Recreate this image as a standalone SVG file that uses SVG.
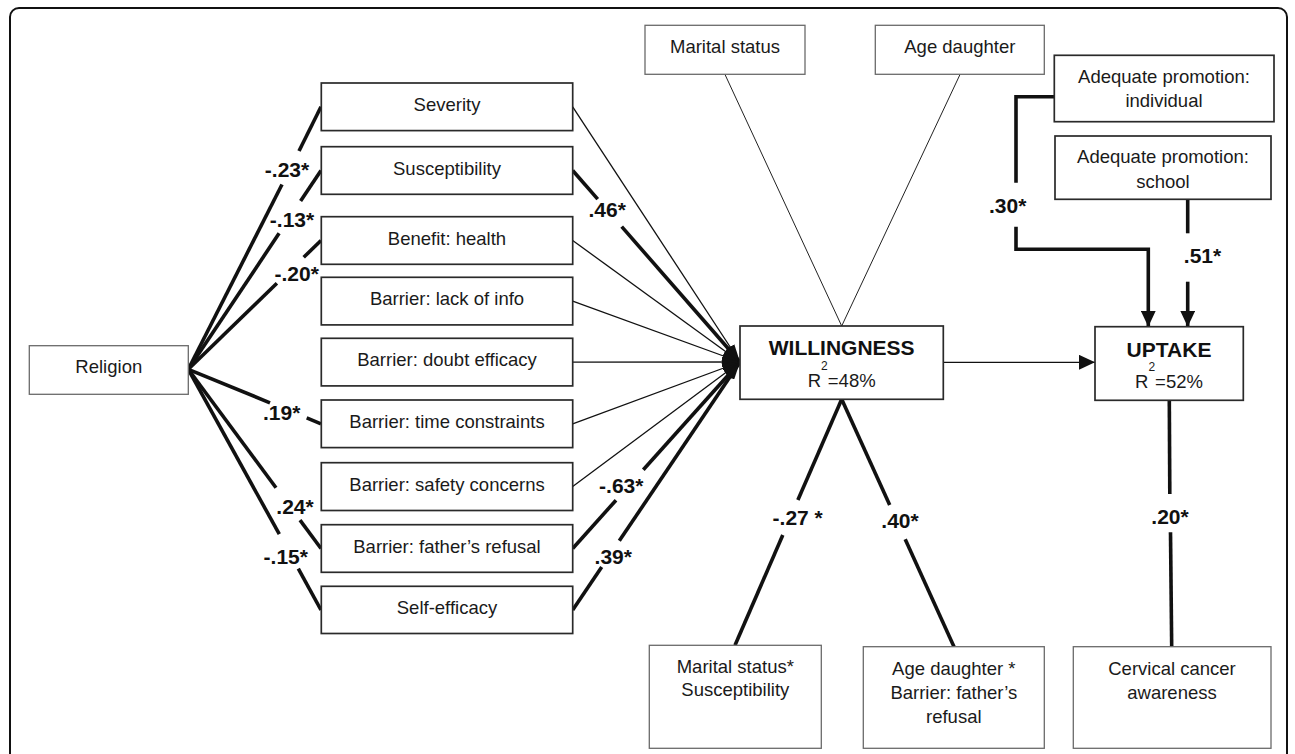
<svg xmlns="http://www.w3.org/2000/svg" width="1295" height="754" viewBox="0 0 1295 754">
<style>
.box{fill:#fff;stroke:#2a2a2a;stroke-width:1.7}
.lbox{fill:#fff;stroke:#6a6a6a;stroke-width:1.3}
.t{font-family:"Liberation Sans",Arial,sans-serif;font-size:18.5px;fill:#1a1a1a;text-anchor:middle}
.b{font-family:"Liberation Sans",Arial,sans-serif;font-weight:bold;font-size:21px;fill:#111;text-anchor:middle}
.thin{stroke:#111;stroke-width:1.3;fill:none}
.hair{stroke:#222;stroke-width:1;fill:none}
.thick{stroke:#111;stroke-width:3.6;fill:none}
</style>
<defs>
<marker id="fan" markerUnits="userSpaceOnUse" viewBox="0 0 18 10" refX="18" refY="5" markerWidth="18" markerHeight="10" orient="auto"><path d="M0,0 L18,5 L0,10 z" fill="#111"/></marker>
<marker id="arr" markerUnits="userSpaceOnUse" viewBox="0 0 16 15" refX="16" refY="7.5" markerWidth="16" markerHeight="15" orient="auto"><path d="M0,0 L16,7.5 L0,15 z" fill="#111"/></marker>
</defs>
<rect width="1295" height="754" fill="#fff"/>
<rect x="10" y="8" width="1277" height="800" rx="9" fill="none" stroke="#111" stroke-width="2"/>

<g id="connectors">
  <!-- Religion fan -->
  <line class="thick" x1="321" y1="106.8" x2="299" y2="151"/>
  <line class="thick" x1="282" y1="184.5" x2="188.3" y2="369.3"/>
  <line class="thick" x1="321" y1="170.5" x2="300.6" y2="201"/>
  <line class="thick" x1="279.1" y1="233.3" x2="188.3" y2="369.3"/>
  <line class="thick" x1="321" y1="240.5" x2="303.7" y2="257.3"/>
  <line class="thick" x1="276.9" y1="283.3" x2="188.3" y2="369.3"/>
  <line class="thick" x1="188.3" y1="369.3" x2="270" y2="402.8"/>
  <line class="thick" x1="306.7" y1="417.9" x2="321" y2="423.8"/>
  <line class="thick" x1="188.3" y1="369.3" x2="276" y2="487.7"/>
  <line class="thick" x1="300" y1="520.1" x2="321" y2="548.5"/>
  <line class="thick" x1="188.3" y1="369.3" x2="279.3" y2="534.2"/>
  <line class="thick" x1="298.3" y1="568.6" x2="321" y2="610"/>
  <!-- To Willingness -->
  <line class="thin" x1="572.7" y1="106.8" x2="740" y2="362" marker-end="url(#fan)"/>
  <line class="thick" x1="572.7" y1="170.5" x2="597.7" y2="199.1"/>
  <line class="thick" x1="621.7" y1="226.6" x2="740" y2="362" marker-end="url(#fan)"/>
  <line class="thin" x1="572.7" y1="240.5" x2="740" y2="362" marker-end="url(#fan)"/>
  <line class="thin" x1="572.7" y1="301.1" x2="740" y2="362" marker-end="url(#fan)"/>
  <line class="thin" x1="572.7" y1="362.1" x2="740" y2="362" marker-end="url(#fan)"/>
  <line class="thin" x1="572.7" y1="423.8" x2="740" y2="362" marker-end="url(#fan)"/>
  <line class="thin" x1="572.7" y1="486.5" x2="740" y2="362" marker-end="url(#fan)"/>
  <line class="thick" x1="572.7" y1="548.5" x2="616" y2="500.2"/>
  <line class="thick" x1="643.3" y1="469.8" x2="740" y2="362" marker-end="url(#fan)"/>
  <line class="thick" x1="572.7" y1="610" x2="601.7" y2="567"/>
  <line class="thick" x1="619.3" y1="540.8" x2="740" y2="362" marker-end="url(#fan)"/>
  <!-- Moderators top -->
  <line class="hair" x1="725" y1="74.5" x2="841.7" y2="326"/>
  <line class="hair" x1="960" y1="74.5" x2="841.7" y2="326"/>
  <!-- Willingness -> Uptake -->
  <line class="thin" x1="943.3" y1="362.3" x2="1095" y2="362.3" stroke-width="1.8" marker-end="url(#arr)"/>
  <!-- Promotion -->
  <path class="thick" d="M1054.3,96.7 H1016 V182.7"/>
  <path class="thick" d="M1016,226.7 V249.3 H1148.3 V326.7" marker-end="url(#arr)"/>
  <path class="thick" d="M1187.7,199.3 V233.3"/>
  <path class="thick" d="M1187.7,281.7 V326.7" marker-end="url(#arr)"/>
  <!-- Uptake -> awareness -->
  <line class="thick" x1="1169.3" y1="400.3" x2="1169.8" y2="494"/>
  <line class="thick" x1="1170.5" y1="532.3" x2="1171.7" y2="646.7"/>
  <!-- Willingness interactions -->
  <line class="thick" x1="841.7" y1="399.3" x2="797.9" y2="500"/>
  <line class="thick" x1="782.8" y1="535" x2="735" y2="645.3"/>
  <line class="thick" x1="841.7" y1="399.3" x2="889.7" y2="505"/>
  <line class="thick" x1="905.2" y1="539.3" x2="954" y2="646.7"/>
  <!-- labels -->
  <text class="b" x="287" y="177">-.23*</text>
  <text class="b" x="292" y="227">-.13*</text>
  <text class="b" x="296.7" y="281">-.20*</text>
  <text class="b" x="281.7" y="419.5">.19*</text>
  <text class="b" x="295" y="513.5">.24*</text>
  <text class="b" x="285.8" y="563.5">-.15*</text>
  <text class="b" x="607.2" y="217.3">.46*</text>
  <text class="b" x="621.3" y="492.7">-.63*</text>
  <text class="b" x="613.3" y="564">.39*</text>
  <text class="b" x="797.7" y="525">-.27 *</text>
  <text class="b" x="900" y="528.3">.40*</text>
  <text class="b" x="1170" y="524">.20*</text>
  <text class="b" x="1007.7" y="213.3">.30*</text>
  <text class="b" x="1202.5" y="263.3">.51*</text>
</g>

<g id="religion"><rect class="lbox" x="29.3" y="345.7" width="159" height="48.6"/><text class="t" x="108.8" y="373.3">Religion</text></g>

<g id="severity"><rect class="box" x="321.3" y="83" width="251.4" height="47.6"/><text class="t" x="447" y="111">Severity</text></g>
<g id="susceptibility"><rect class="box" x="321.3" y="146.7" width="251.4" height="47.6"/><text class="t" x="447" y="174.7">Susceptibility</text></g>
<g id="benefit-health"><rect class="box" x="321.3" y="216.7" width="251.4" height="47.6"/><text class="t" x="447" y="244.7">Benefit: health</text></g>
<g id="barrier-lack-info"><rect class="box" x="321.3" y="277.3" width="251.4" height="47.6"/><text class="t" x="447" y="305.3">Barrier: lack of info</text></g>
<g id="barrier-doubt-efficacy"><rect class="box" x="321.3" y="338.3" width="251.4" height="47.6"/><text class="t" x="447" y="366.3">Barrier: doubt efficacy</text></g>
<g id="barrier-time"><rect class="box" x="321.3" y="400" width="251.4" height="47.6"/><text class="t" x="447" y="428">Barrier: time constraints</text></g>
<g id="barrier-safety"><rect class="box" x="321.3" y="462.7" width="251.4" height="47.8"/><text class="t" x="447" y="490.7">Barrier: safety concerns</text></g>
<g id="barrier-father"><rect class="box" x="321.3" y="524.7" width="251.4" height="47.6"/><text class="t" x="447" y="552.7">Barrier: father’s refusal</text></g>
<g id="self-efficacy"><rect class="box" x="321.3" y="586.3" width="251.4" height="47.2"/><text class="t" x="447" y="614.3">Self-efficacy</text></g>

<g id="marital-status"><rect class="lbox" x="645" y="25.3" width="160" height="49"/><text class="t" x="725" y="53.3">Marital status</text></g>
<g id="age-daughter"><rect class="lbox" x="875.3" y="25.3" width="169" height="49"/><text class="t" x="959.8" y="53.3">Age daughter</text></g>

<g id="promotion-individual"><rect class="box" x="1054.3" y="55.3" width="219.7" height="66.4" stroke-width="1.4"/><text class="t" x="1164" y="83.3">Adequate promotion:</text><text class="t" x="1164" y="107.3">individual</text></g>
<g id="promotion-school"><rect class="box" x="1055" y="136" width="216" height="63.3" stroke-width="1.4"/><text class="t" x="1163" y="163.3">Adequate promotion:</text><text class="t" x="1163" y="188.3">school</text></g>

<g id="willingness"><rect class="box" x="740" y="326" width="203.3" height="73.3"/><text class="b" x="841.7" y="355">WILLINGNESS</text><text class="t" x="841.7" y="387" font-size="20">R<tspan dy="-17" font-size="12">2</tspan><tspan dy="17">=48%</tspan></text></g>
<g id="uptake"><rect class="box" x="1095" y="326.7" width="148.3" height="73.6"/><text class="b" x="1169" y="356.7">UPTAKE</text><text class="t" x="1169" y="388" font-size="20">R<tspan dy="-17" font-size="12">2</tspan><tspan dy="17">=52%</tspan></text></g>

<g id="marital-susceptibility"><rect class="lbox" x="649.3" y="645.3" width="172" height="103"/><text class="t" x="735.3" y="673.3">Marital status*</text><text class="t" x="735.3" y="695.5">Susceptibility</text></g>
<g id="age-father"><rect class="lbox" x="863.3" y="646.7" width="181" height="101.6"/><text class="t" x="953.8" y="675">Age daughter *</text><text class="t" x="953.8" y="699.3">Barrier: father’s</text><text class="t" x="953.8" y="723.3">refusal</text></g>
<g id="cervical-awareness"><rect class="lbox" x="1073.3" y="646.7" width="197.7" height="101.6"/><text class="t" x="1172" y="675">Cervical cancer</text><text class="t" x="1172" y="699">awareness</text></g>
</svg>
